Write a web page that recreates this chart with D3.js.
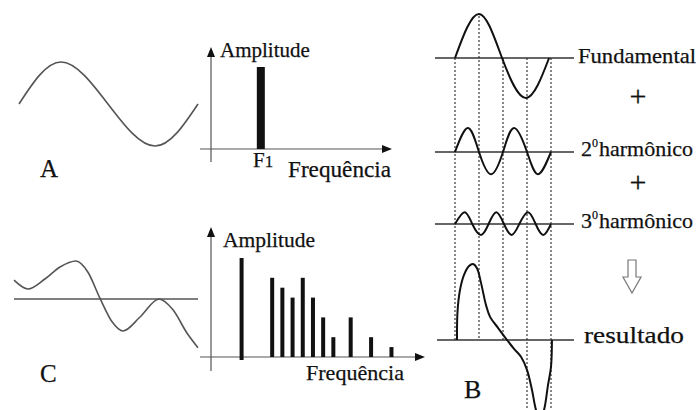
<!DOCTYPE html>
<html>
<head>
<meta charset="utf-8">
<script src="https://cdn.jsdelivr.net/npm/d3@7"></script>
<style>
  body { margin: 0; background: #fff; }
  text { font-family: "Liberation Serif", "Times New Roman", serif; fill: #111; stroke: #111; stroke-width: 0.25; }
</style>
</head>
<body>
<svg width="699" height="410"></svg>
<script>
// spectrum of the pure tone (A)
const freqA = [4.9];
const ampA = [10];

// spectrum of the complex tone (C)
const freqC = [3, 6, 7, 8, 9, 10, 11, 12, 13.7, 15.7, 17.7];
const ampC = [10, 8, 7, 6, 8, 6, 4, 2, 4, 2, 1];

// waveforms: [time as fraction of the window, amplitude]
const waveA = [[0, 0], [0.235, 1], [0.497, 0], [0.76, -1], [1, 0]];
const waveC = [[0, 0.47], [0.076, 0.25], [0.168, 0.5], [0.25, 0.8], [0.337, 0.95],
  [0.402, 0.67], [0.467, 0.02], [0.533, -0.57], [0.592, -0.8], [0.685, -0.45],
  [0.788, 0], [0.864, -0.27], [0.94, -0.85], [1, -1.22]];

// B: one fundamental period, amplitudes relative to the fundamental
const fundamental = [[0, 0], [0.25, 1.05], [0.49, 0], [0.74, -0.95], [0.98, 0]];
const harmonic2 = [[0, 0], [0.135, 0.57], [0.25, 0], [0.375, -0.53], [0.5, 0],
  [0.615, 0.57], [0.75, 0], [0.865, -0.53], [1, 0]];
const harmonic3 = [[0, 0], [0.1, 0.28], [0.18, 0], [0.27, -0.26], [0.35, 0], [0.43, 0.28],
  [0.51, 0], [0.59, -0.26], [0.67, 0], [0.76, 0.28], [0.84, 0], [0.92, -0.26], [1, 0]];
const resultado = [[0.021, 0], [0.026, 0.67], [0.052, 1.19], [0.094, 1.55], [0.146, 1.76],
  [0.1875, 1.81], [0.229, 1.71], [0.271, 1.36], [0.323, 0.83], [0.365, 0.55],
  [0.448, 0.29], [0.542, 0], [0.615, -0.21], [0.6875, -0.4], [0.75, -0.71],
  [0.802, -1.19], [0.844, -1.67], [0.885, -1.9], [0.927, -1.67], [0.969, -1.07],
  [1, -0.64], [1.01, 0]];
const markTimes = [0, 0.25, 0.5, 0.75, 1];

const rowLabels = ["Fundamental", "2", "3", "resultado"];

const svg = d3.select("svg");
const ink = "#111";
const grey = "#555";

function arrowUp(x, y) {
  svg.append("path").attr("d", `M${x},${y} L${x - 4},${y + 10} L${x + 4},${y + 10} Z`).attr("fill", ink);
}
function arrowRight(x, y) {
  svg.append("path").attr("d", `M${x},${y} L${x - 10},${y - 4} L${x - 10},${y + 4} Z`).attr("fill", ink);
}

// ---------- A : sine wave ----------
const xWA = d3.scaleLinear().domain([0, 1]).range([19, 198]);
const yWA = d3.scaleLinear().domain([-1, 1]).range([146, 62]);
svg.append("path")
  .attr("d", d3.line().x(d => xWA(d[0])).y(d => yWA(d[1])).curve(d3.curveNatural)(waveA))
  .attr("fill", "none").attr("stroke", grey).attr("stroke-width", 1.6);

svg.append("text").attr("x", 40).attr("y", 177).attr("font-size", 25).text("A");

// A spectrum
const xA = d3.scaleLinear().domain([0, 17.8]).range([211, 392]);
const yA = d3.scaleLinear().domain([0, 10]).range([149, 67]);
svg.append("line").attr("x1", xA(0)).attr("x2", xA(0)).attr("y1", 162).attr("y2", 52)
  .attr("stroke", grey).attr("stroke-width", 1.2);
svg.append("line").attr("x1", 200).attr("x2", xA.range()[1] - 6).attr("y1", yA(0)).attr("y2", yA(0))
  .attr("stroke", grey).attr("stroke-width", 1.2);
arrowUp(xA(0), 47);
arrowRight(xA.range()[1], yA(0));
svg.append("g").selectAll("rect").data(freqA).join("rect")
  .attr("x", d => xA(d) - 4).attr("width", 8)
  .attr("y", (d, i) => yA(ampA[i])).attr("height", (d, i) => yA(0) - yA(ampA[i]))
  .attr("fill", ink);
svg.append("text").attr("x", 220).attr("y", 57).attr("font-size", 21).text("Amplitude");
const f1 = svg.append("text").attr("x", 253).attr("y", 167).attr("font-size", 21).text("F");
f1.append("tspan").attr("font-size", 17).text("1");
svg.append("text").attr("x", 288).attr("y", 177).attr("font-size", 23)
  .attr("textLength", 103).attr("lengthAdjust", "spacingAndGlyphs").text("Frequência");

// ---------- C : complex wave ----------
const xWC = d3.scaleLinear().domain([0, 1]).range([14, 198]);
const yWC = d3.scaleLinear().domain([-1, 1]).range([339, 259]);
svg.append("line").attr("x1", xWC(0)).attr("x2", xWC(1)).attr("y1", yWC(0)).attr("y2", yWC(0))
  .attr("stroke", grey).attr("stroke-width", 1.4);
svg.append("path")
  .attr("d", d3.line().x(d => xWC(d[0])).y(d => yWC(d[1])).curve(d3.curveMonotoneX)(waveC))
  .attr("fill", "none").attr("stroke", grey).attr("stroke-width", 1.6);

svg.append("text").attr("x", 40).attr("y", 382).attr("font-size", 25).text("C");

// C spectrum
const xC = d3.scaleLinear().domain([0, 20.4]).range([211, 419]);
const yC = d3.scaleLinear().domain([0, 10]).range([357, 258]);
svg.append("line").attr("x1", xC(0)).attr("x2", xC(0)).attr("y1", 371).attr("y2", 232)
  .attr("stroke", grey).attr("stroke-width", 1.2);
svg.append("line").attr("x1", 200).attr("x2", 418).attr("y1", yC(0)).attr("y2", yC(0))
  .attr("stroke", grey).attr("stroke-width", 1.2);
arrowUp(xC(0), 227);
arrowRight(425, yC(0));
svg.append("g").selectAll("rect").data(freqC).join("rect")
  .attr("x", d => xC(d) - 2).attr("width", 4)
  .attr("y", (d, i) => yC(ampC[i])).attr("height", (d, i) => yC(0) - yC(ampC[i]) + (i === 0 ? 3 : 0))
  .attr("fill", ink);
svg.append("text").attr("x", 223).attr("y", 247).attr("font-size", 21)
  .attr("textLength", 92).attr("lengthAdjust", "spacingAndGlyphs").text("Amplitude");
svg.append("text").attr("x", 306).attr("y", 380).attr("font-size", 22)
  .attr("textLength", 98).attr("lengthAdjust", "spacingAndGlyphs").text("Frequência");

// ---------- B : harmonic synthesis ----------
const tB = d3.scaleLinear().domain([0, 1]).range([455, 551]);
const rowBase = [58, 152, 224, 340];
const rowData = [fundamental, harmonic2, harmonic3, resultado];
const yRow = rowBase.map(b => d3.scaleLinear().domain([-1, 1]).range([b + 42, b - 42]));

// dotted guides
svg.append("g").selectAll("line").data(markTimes).join("line")
  .attr("x1", d => tB(d)).attr("x2", d => tB(d))
  .attr("y1", d => d === 0.25 ? 16 : rowBase[0])
  .attr("y2", d => d >= 0.75 ? 410 : rowBase[3])
  .attr("stroke", "#555").attr("stroke-width", 1.4).attr("stroke-dasharray", "2,2");

// row axes
svg.append("g").selectAll("line").data(rowBase).join("line")
  .attr("x1", (d, i) => i === 3 ? 437 : 435).attr("x2", 574)
  .attr("y1", d => d).attr("y2", d => d)
  .attr("stroke", "#333").attr("stroke-width", 1.3);

const lineB = (i) => d3.line().x(d => tB(d[0])).y(d => yRow[i](d[1]))
  .curve(i === 3 ? d3.curveCatmullRom.alpha(0.5) : d3.curveNatural);
svg.append("g").selectAll("path").data(rowData).join("path")
  .attr("d", (d, i) => lineB(i)(d))
  .attr("fill", "none").attr("stroke", ink).attr("stroke-width", 2);

// row labels
svg.append("text").attr("x", 578).attr("y", 63).attr("font-size", 22)
  .attr("textLength", 118).attr("lengthAdjust", "spacingAndGlyphs").text(rowLabels[0]);
[1, 2].forEach(i => {
  const t = svg.append("text").attr("x", 581).attr("y", rowBase[i] + 4).attr("font-size", 22);
  t.append("tspan").text(rowLabels[i]);
  t.append("tspan").attr("x", 592).attr("dy", -9).attr("font-size", 12).text("0");
  t.append("tspan").attr("x", 599).attr("dy", 9).text("harmônico");
});
svg.append("text").attr("x", 584).attr("y", 343).attr("font-size", 24)
  .attr("textLength", 100).attr("lengthAdjust", "spacingAndGlyphs").text(rowLabels[3]);

// plus signs between rows
[106, 192].forEach(y => {
  svg.append("text").attr("x", 638).attr("y", y).attr("font-size", 30)
    .attr("stroke-width", 0.8).attr("text-anchor", "middle").text("+");
});

// hollow down arrow
svg.append("path")
  .attr("d", "M628,260 L636,260 L636,277 L641,277 L632,293 L623,277 L628,277 Z")
  .attr("fill", "#fff").attr("stroke", "#777").attr("stroke-width", 1.2);

svg.append("text").attr("x", 464).attr("y", 398).attr("font-size", 26).text("B");
</script>
</body>
</html>
